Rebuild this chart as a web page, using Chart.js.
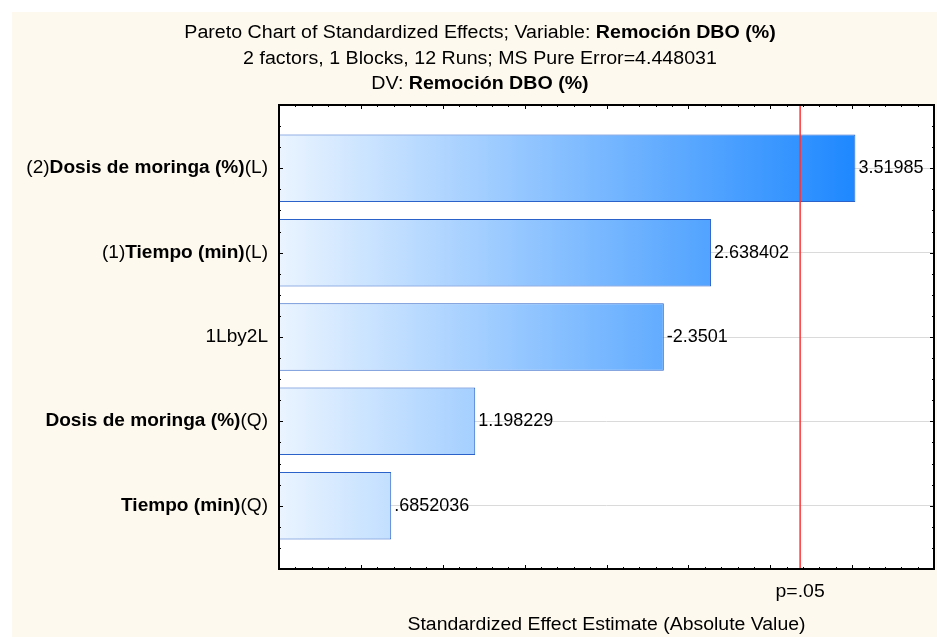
<!DOCTYPE html>
<html>
<head>
<meta charset="utf-8">
<script src="https://cdn.jsdelivr.net/npm/chart.js@4.4.1/dist/chart.umd.min.js"></script>
<style>
html,body{margin:0;padding:0;background:#fff;}
canvas{display:block;}
</style>
</head>
<body>
<canvas id="c" width="937" height="637"></canvas>
<script>
// ---- data ----
const categories = ['(2)Dosis de moringa (%)(L)', '(1)Tiempo (min)(L)', '1Lby2L', 'Dosis de moringa (%)(Q)', 'Tiempo (min)(Q)'];
const categoryParts = [
  [['(2)', 0], ['Dosis de moringa (%)', 1], ['(L)', 0]],
  [['(1)', 0], ['Tiempo (min)', 1], ['(L)', 0]],
  [['1Lby2L', 0]],
  [['Dosis de moringa (%)', 1], ['(Q)', 0]],
  [['Tiempo (min)', 1], ['(Q)', 0]]
];
const effects = [3.51985, 2.638402, -2.3501, 1.198229, 0.6852036];
const effectLabels = ['3.51985', '2.638402', '-2.3501', '1.198229', '.6852036'];
const criticalValue = 3.182446;
const criticalLabel = 'p=.05';
const xMin = 0, xMax = 4, xMajorStep = 0.5, xMinorStep = 0.1;
const titleLines = [
  [['Pareto Chart of Standardized Effects; Variable: ', 0], ['Remoción DBO (%)', 1]],
  [['2 factors, 1 Blocks, 12 Runs; MS Pure Error=4.448031', 0]],
  [['DV: ', 0], ['Remoción DBO (%)', 1]]
];
const xAxisTitle = 'Standardized Effect Estimate (Absolute Value)';

// ---- styles ----
const FONT = '"Liberation Sans", Arial, sans-serif';
const FS = 18;

function drawParts(ctx, parts, x, y, align, sx) {
  ctx.save();
  let w = 0;
  const widths = parts.map(p => { ctx.font = (p[1] ? 'bold ' : '') + FS + 'px ' + FONT; const m = ctx.measureText(p[0]).width; w += m; return m; });
  let start = align === 'center' ? -w / 2 : (align === 'right' ? -w : 0);
  ctx.translate(x, y);
  ctx.scale(sx, 1);
  ctx.textBaseline = 'middle';
  ctx.textAlign = 'left';
  ctx.fillStyle = '#000';
  let cx = start;
  parts.forEach((p, i) => {
    ctx.font = (p[1] ? 'bold ' : '') + FS + 'px ' + FONT;
    ctx.fillText(p[0], cx, 0);
    cx += widths[i];
  });
  ctx.restore();
}

const decor = {
  id: 'decor',
  beforeDraw(chart) {
    const ctx = chart.ctx, a = chart.chartArea;
    ctx.save();
    ctx.fillStyle = '#ffffff';
    ctx.fillRect(0, 0, chart.width, chart.height);
    ctx.fillStyle = '#FDF9EE';
    ctx.fillRect(12, 12, chart.width - 12, chart.height - 12);
    ctx.fillStyle = '#ffffff';
    ctx.fillRect(a.left, a.top, a.right - a.left, a.bottom - a.top);
    ctx.restore();
  },
  afterDatasetsDraw(chart) {
    const ctx = chart.ctx, a = chart.chartArea;
    const xs = chart.scales.x, ys = chart.scales.y;
    ctx.save();
    // critical line
    const cx = xs.getPixelForValue(criticalValue);
    ctx.strokeStyle = '#FF3333';
    ctx.lineWidth = 1.5;
    ctx.beginPath(); ctx.moveTo(cx, a.top); ctx.lineTo(cx, a.bottom); ctx.stroke();
    // ticks
    ctx.strokeStyle = '#000';
    ctx.lineWidth = 1;
    ctx.beginPath();
    const nMinor = Math.round((xMax - xMin) / xMinorStep);
    for (let i = 1; i < nMinor; i++) {
      const v = xMin + i * xMinorStep;
      const isMajor = Math.abs(v / xMajorStep - Math.round(v / xMajorStep)) < 1e-6;
      const len = isMajor ? 4 : 2;
      const px = Math.round(xs.getPixelForValue(v)) + 0.5;
      ctx.moveTo(px, a.bottom); ctx.lineTo(px, a.bottom - len);
      ctx.moveTo(px, a.top); ctx.lineTo(px, a.top + len);
    }
    const yMin = ys.min, yMax = ys.max;
    for (let v = Math.ceil(yMin * 4) / 4; v <= yMax + 1e-9; v += 0.25) {
      if (v <= yMin + 1e-9 || v >= yMax - 1e-9) continue;
      const isMajor = Math.abs(v - Math.round(v)) < 1e-6;
      const len = isMajor ? 4 : 2;
      const py = Math.round(ys.getPixelForValue(v)) + 0.5;
      ctx.moveTo(a.left, py); ctx.lineTo(a.left + len, py);
      ctx.moveTo(a.right, py); ctx.lineTo(a.right - len, py);
    }
    ctx.stroke();
    // frame
    ctx.lineWidth = 2;
    ctx.strokeRect(a.left, a.top, a.right - a.left, a.bottom - a.top);
    ctx.restore();

    // value labels
    const meta = chart.getDatasetMeta(0);
    meta.data.forEach((bar, i) => {
      ctx.save();
      ctx.font = FS + 'px ' + FONT;
      ctx.fillStyle = '#000';
      ctx.textBaseline = 'middle';
      ctx.textAlign = 'left';
      ctx.fillText(effectLabels[i], bar.x + 3, bar.y);
      ctx.restore();
    });
    // category labels
    categoryParts.forEach((parts, i) => {
      drawParts(ctx, parts, a.left - 11, ys.getPixelForValue(i + 1), 'right', 1.06);
    });
    // titles
    titleLines.forEach((parts, i) => {
      drawParts(ctx, parts, 480, 33 + i * 25.7, 'center', 1.09);
    });
    drawParts(ctx, [[criticalLabel, 0]], cx, 592, 'center', 1.08);
    drawParts(ctx, [[xAxisTitle, 0]], (a.left + a.right) / 2, 625, 'center', 1.08);
  }
};

const ctx = document.getElementById('c').getContext('2d');
new Chart(ctx, {
  type: 'bar',
  data: {
    labels: categories,
    datasets: [{
      data: effects.map((v, i) => ({ x: Math.abs(v), y: i + 1 })),
      backgroundColor(c) {
        const ch = c.chart, a = ch.chartArea;
        if (!a) return '#8fc3ff';
        const xs = ch.scales.x;
        const g = ch.ctx.createLinearGradient(xs.getPixelForValue(0), 0, xs.getPixelForValue(Math.max(...effects.map(Math.abs))), 0);
        g.addColorStop(0, '#EAF4FF');
        g.addColorStop(1, '#1E88FF');
        return g;
      },
      borderColor: '#2B62C9',
      borderWidth: { top: 1, right: 1, bottom: 1, left: 0 },
      borderSkipped: false,
      barPercentage: 0.8,
      categoryPercentage: 1
    }]
  },
  options: {
    indexAxis: 'y',
    responsive: false,
    animation: false,
    devicePixelRatio: 1,
    layout: { padding: { left: 279, right: 3, top: 105, bottom: 68 } },
    plugins: { legend: { display: false }, title: { display: false }, tooltip: { enabled: false } },
    scales: {
      x: {
        type: 'linear', min: xMin, max: xMax, offset: false,
        ticks: { display: false },
        grid: { display: false, drawTicks: false, offset: false },
        border: { display: false },
        afterFit(s) { s.height = 0; }
      },
      y: {
        type: 'linear', min: 0.25, max: 5.75, reverse: true, offset: false,
        ticks: { display: false },
        grid: { color: '#DADADA', lineWidth: 1, drawTicks: false, offset: false },
        border: { display: false },
        afterBuildTicks(s) { s.ticks = categories.map((c, i) => ({ value: i + 1 })); },
        afterFit(s) { s.width = 0; }
      }
    }
  },
  plugins: [decor]
});
</script>
</body>
</html>
